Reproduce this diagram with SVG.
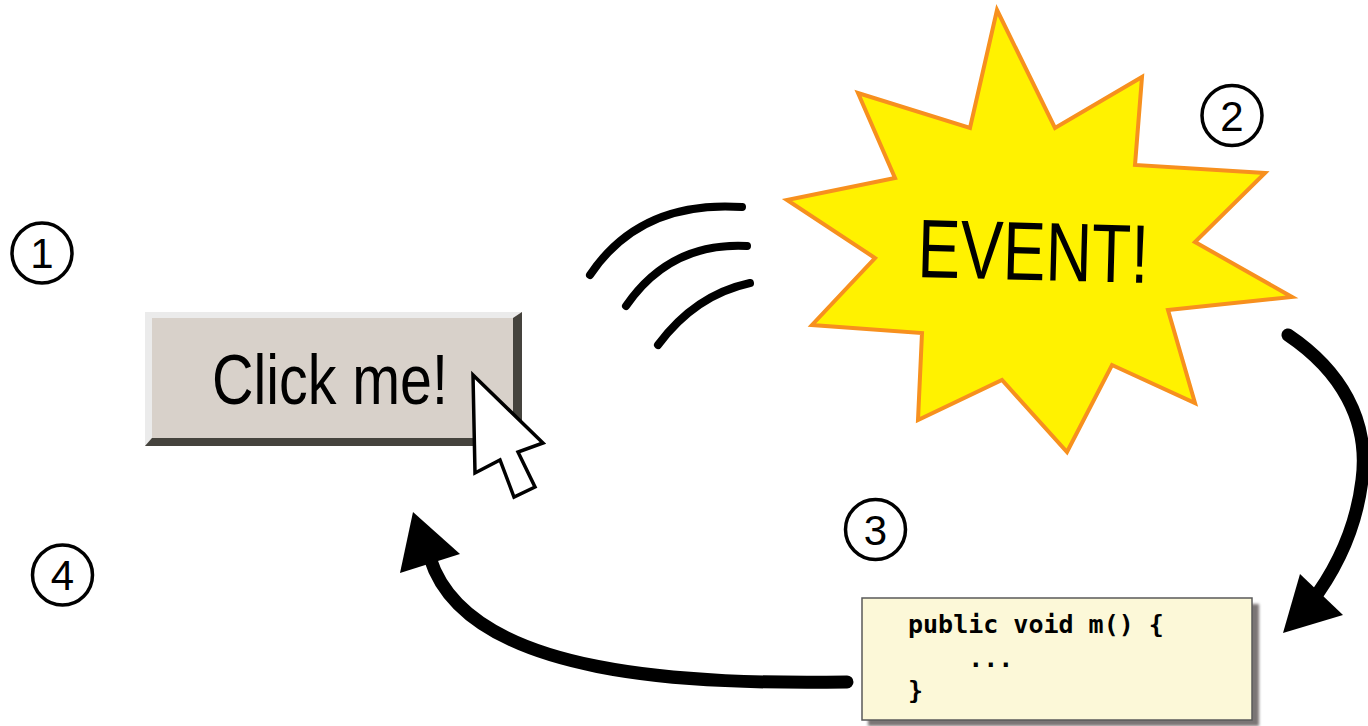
<svg xmlns="http://www.w3.org/2000/svg" width="1368" height="726" viewBox="0 0 1368 726">
<defs>
<style>
.num circle{fill:none;stroke:#000;stroke-width:3.5}
.num text{font-family:"Liberation Sans",Arial,sans-serif;font-size:42px;text-anchor:middle;fill:#000}
.wave{fill:none;stroke:#000;stroke-width:8;stroke-linecap:round}
.conn{fill:none;stroke:#000;stroke-width:13;stroke-linecap:round}
.code{font-family:"DejaVu Sans Mono","Liberation Mono",monospace;font-weight:bold;font-size:25px;fill:#000}
</style>
<filter id="soft" x="-10%" y="-10%" width="120%" height="130%"><feGaussianBlur stdDeviation="1.5"/></filter>
</defs>
<rect width="1368" height="726" fill="#fff"/>

<g id="num1" class="num"><circle cx="42" cy="253" r="30"/><text x="42" y="268">1</text></g>
<g id="num2" class="num"><circle cx="1232" cy="115.5" r="30"/><text x="1232" y="130.5">2</text></g>
<g id="num3" class="num"><circle cx="875.5" cy="529.5" r="30"/><text x="875.5" y="544.5">3</text></g>
<g id="num4" class="num"><circle cx="62.5" cy="575" r="30"/><text x="62.5" y="590">4</text></g>

<g id="button">
<rect x="145" y="312" width="377" height="134" fill="#d8d1ca"/>
<polygon points="145,312 522,312 513,318 152,318 152,438 145,446" fill="#ebebeb"/>
<polygon points="522,312 522,446 145,446 152,438 513,438 513,318" fill="#45433d"/>
<text x="212" y="404" font-family="'Liberation Sans',Arial,sans-serif" font-size="70" textLength="236" lengthAdjust="spacingAndGlyphs" fill="#000">Click me!</text>
</g>

<g id="cursor">
<polygon points="473,375 475,473 500,460 514,497 535,487 518,452 543,443" fill="#fff" stroke="#000" stroke-width="3.5" stroke-linejoin="miter"/>
</g>

<g id="waves">
<path class="wave" d="M590,275 Q640,200 742,207"/>
<path class="wave" d="M626,306 Q670,242 747,246"/>
<path class="wave" d="M658,345 Q695,295 750,283"/>
</g>

<g id="event">
<polygon points="997,10 1055,128 1142,77 1135,165 1265,173 1195,242 1292,297 1168,310 1195,403 1112,365 1067,452 1002,380 918,420 922,333 812,325 875,258 787,200 895,178 858,93 970,128" fill="#fff200" stroke="#f7901e" stroke-width="4" stroke-linejoin="miter"/>
<text x="917" y="277" transform="rotate(1.5 917 277)" font-family="'Liberation Sans',Arial,sans-serif" font-size="83" textLength="231" lengthAdjust="spacingAndGlyphs" fill="#000">EVENT!</text>
</g>

<g id="code">
<rect x="868" y="604" width="391" height="122" fill="#7a7575" filter="url(#soft)"/>
<rect x="862" y="598" width="390" height="122" fill="#fcf8d8" stroke="#5a5a5a" stroke-width="1.5"/>
<text class="code" x="908" y="633">public void m() {</text>
<text class="code" x="908" y="667" xml:space="preserve">    ...</text>
<text class="code" x="908" y="699">}</text>
</g>

<g id="connectors">
<path class="conn" d="M1288,335 C1340,370 1370,420 1362,480 C1356,530 1336,570 1310,604"/>
<polygon points="1283,633 1300,574 1343,615" fill="#000"/>
<path class="conn" d="M847,682 C700,684 468,680 430,558"/>
<polygon points="413,512 400,573 460,554" fill="#000"/>
</g>
</svg>
